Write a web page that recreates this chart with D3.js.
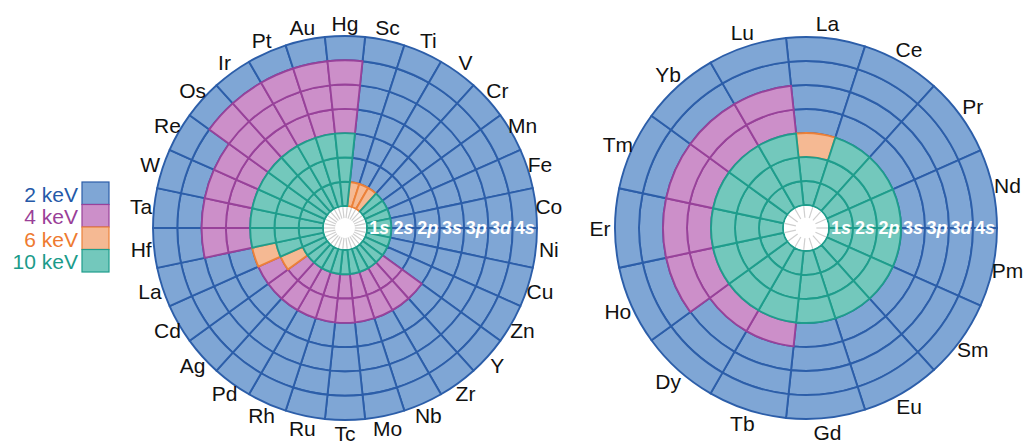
<!DOCTYPE html>
<html>
<head>
<meta charset="utf-8">
<script src="https://cdn.jsdelivr.net/npm/d3@7"></script>
<style>
  body { margin: 0; background: #fff; }
  svg { display: block; }
  text { font-family: "Liberation Sans", Arial, Helvetica, sans-serif; }
</style>
</head>
<body>
<svg id="chart" width="1035" height="443"></svg>
<script>
// Subshells, innermost ring first
const shells = ["1s", "2s", "2p", "3s", "3p", "3d", "4s"];

// Photon energy classes (keV) and their styling
const energyLevels = [2, 4, 6, 10];
const energyLabels = ["2 keV", "4 keV", "6 keV", "10 keV"];
const fillColors   = ["#7fa6d5", "#cc8fc9", "#f5b993", "#73c8bc"];
const strokeColors = ["#2c5ea9", "#98429a", "#ec8139", "#1f9d8c"];
const textColors   = ["#2559a8", "#9a3f98", "#ee7a30", "#1b9b8a"];

// Transition metals (clockwise from top)
const transitionElements = [
  "Sc", "Ti", "V", "Cr", "Mn", "Fe", "Co", "Ni", "Cu", "Zn",
  "Y", "Zr", "Nb", "Mo", "Tc", "Ru", "Rh", "Pd", "Ag", "Cd",
  "La", "Hf", "Ta", "W", "Re", "Os", "Ir", "Pt", "Au", "Hg"
];
// energy class per subshell: 1s 2s 2p 3s 3p 3d 4s
const transitionEnergies = [
  [6, 2, 2, 2, 2, 2, 2],   // Sc
  [6, 2, 2, 2, 2, 2, 2],   // Ti
  [6, 2, 2, 2, 2, 2, 2],   // V
  [10, 2, 2, 2, 2, 2, 2],  // Cr
  [10, 2, 2, 2, 2, 2, 2],  // Mn
  [10, 2, 2, 2, 2, 2, 2],  // Fe
  [10, 2, 2, 2, 2, 2, 2],  // Co
  [10, 2, 2, 2, 2, 2, 2],  // Ni
  [10, 2, 2, 2, 2, 2, 2],  // Cu
  [10, 2, 2, 2, 2, 2, 2],  // Zn
  [10, 4, 4, 2, 2, 2, 2],  // Y
  [10, 4, 4, 2, 2, 2, 2],  // Zr
  [10, 4, 4, 2, 2, 2, 2],  // Nb
  [10, 4, 4, 2, 2, 2, 2],  // Mo
  [10, 4, 4, 2, 2, 2, 2],  // Tc
  [10, 4, 4, 2, 2, 2, 2],  // Ru
  [10, 4, 4, 2, 2, 2, 2],  // Rh
  [10, 4, 4, 2, 2, 2, 2],  // Pd
  [10, 4, 4, 2, 2, 2, 2],  // Ag
  [10, 6, 4, 2, 2, 2, 2],  // Cd
  [10, 10, 6, 2, 2, 2, 2], // La
  [10, 10, 10, 4, 4, 2, 2],// Hf
  [10, 10, 10, 4, 4, 2, 2],// Ta
  [10, 10, 10, 4, 4, 2, 2],// W
  [10, 10, 10, 4, 4, 2, 2],// Re
  [10, 10, 10, 4, 4, 4, 2],// Os
  [10, 10, 10, 4, 4, 4, 2],// Ir
  [10, 10, 10, 4, 4, 4, 2],// Pt
  [10, 10, 10, 4, 4, 4, 2],// Au
  [10, 10, 10, 4, 4, 4, 2] // Hg
];

// Lanthanides (clockwise from top)
const lanthanideElements = [
  "La", "Ce", "Pr", "Nd", "Pm", "Sm", "Eu", "Gd",
  "Tb", "Dy", "Ho", "Er", "Tm", "Yb", "Lu"
];
const lanthanideEnergies = [
  [10, 10, 6, 2, 2, 2, 2],  // La
  [10, 10, 10, 2, 2, 2, 2], // Ce
  [10, 10, 10, 2, 2, 2, 2], // Pr
  [10, 10, 10, 2, 2, 2, 2], // Nd
  [10, 10, 10, 2, 2, 2, 2], // Pm
  [10, 10, 10, 2, 2, 2, 2], // Sm
  [10, 10, 10, 2, 2, 2, 2], // Eu
  [10, 10, 10, 2, 2, 2, 2], // Gd
  [10, 10, 10, 4, 2, 2, 2], // Tb
  [10, 10, 10, 4, 2, 2, 2], // Dy
  [10, 10, 10, 4, 4, 2, 2], // Ho
  [10, 10, 10, 4, 4, 2, 2], // Er
  [10, 10, 10, 4, 4, 2, 2], // Tm
  [10, 10, 10, 4, 4, 2, 2], // Yb
  [10, 10, 10, 4, 4, 2, 2]  // Lu
];

const svg = d3.select("#chart");
const fill = d3.scaleOrdinal().domain(energyLevels).range(fillColors);
const edge = d3.scaleOrdinal().domain(energyLevels).range(strokeColors);
const rad = deg => deg * Math.PI / 180;

function drawWheel(cfg) {
  const { cx, cy, elements, values, startDeg, rHole, rOuter, labelR } = cfg;
  const g = svg.append("g").attr("transform", `translate(${cx},${cy})`);

  const angle = d3.scaleBand().domain(elements)
    .range([rad(startDeg), rad(startDeg + 360)]);
  const ring = d3.scaleBand().domain(shells).range([rHole, rOuter]);
  const arc = d3.arc();

  const cells = elements.flatMap((el, i) =>
    shells.map((s, j) => ({ el, shell: s, v: values[i][j] })));
  // lower energies first so higher-energy outlines sit on top
  cells.sort((a, b) => energyLevels.indexOf(a.v) - energyLevels.indexOf(b.v));

  g.selectAll("path.cell").data(cells).join("path")
    .attr("class", "cell")
    .attr("d", d => arc({
      innerRadius: ring(d.shell),
      outerRadius: ring(d.shell) + ring.bandwidth(),
      startAngle: angle(d.el),
      endAngle: angle(d.el) + angle.bandwidth()
    }))
    .attr("fill", d => fill(d.v))
    .attr("stroke", d => edge(d.v))
    .attr("stroke-width", 1.9)
    .attr("stroke-linejoin", "round");

  // central hole with faint spokes
  g.append("circle").attr("r", rHole - 1).attr("fill", "#fff");
  g.selectAll("line.spoke").data(elements).join("line")
    .attr("class", "spoke")
    .attr("x1", d => rHole * 0.45 * Math.sin(angle(d)))
    .attr("y1", d => -rHole * 0.45 * Math.cos(angle(d)))
    .attr("x2", d => (rHole - 1) * Math.sin(angle(d)))
    .attr("y2", d => -(rHole - 1) * Math.cos(angle(d)))
    .attr("stroke", "#cfcfcf")
    .attr("stroke-width", 1.2);

  // element names around the rim
  g.selectAll("text.elem").data(elements).join("text")
    .attr("class", "elem")
    .attr("x", d => labelR * Math.sin(angle(d) + angle.bandwidth() / 2))
    .attr("y", d => -labelR * Math.cos(angle(d) + angle.bandwidth() / 2))
    .attr("text-anchor", "middle")
    .attr("dominant-baseline", "central")
    .attr("font-size", 21)
    .attr("fill", "#111")
    .text(d => d);

  // subshell names along the horizontal radius
  const sl = g.selectAll("text.shell").data(shells).join("text")
    .attr("class", "shell")
    .attr("x", d => ring(d) + ring.bandwidth() / 2)
    .attr("y", 0)
    .attr("text-anchor", "middle")
    .attr("dominant-baseline", "central")
    .attr("font-size", 18)
    .attr("font-weight", "bold")
    .attr("fill", "#fff");
  sl.append("tspan").text(d => d[0]);
  sl.append("tspan").attr("font-style", "italic").text(d => d.slice(1));
}

drawWheel({
  cx: 345, cy: 228,
  elements: transitionElements, values: transitionEnergies,
  startDeg: 6, rHole: 22, rOuter: 192, labelR: 205
});

drawWheel({
  cx: 806, cy: 228,
  elements: lanthanideElements, values: lanthanideEnergies,
  startDeg: -6, rHole: 23, rOuter: 191, labelR: 206
});

// legend
const legend = svg.append("g");
const boxH = 22.5;
legend.selectAll("rect").data(energyLevels).join("rect")
  .attr("x", 82).attr("y", (d, i) => 182 + i * boxH)
  .attr("width", 27).attr("height", boxH)
  .attr("fill", d => fill(d))
  .attr("stroke", d => edge(d))
  .attr("stroke-width", 1.2);
legend.selectAll("text").data(energyLabels).join("text")
  .attr("x", 78).attr("y", (d, i) => 182 + i * boxH + boxH / 2 + 1)
  .attr("text-anchor", "end")
  .attr("dominant-baseline", "central")
  .attr("font-size", 21)
  .attr("fill", (d, i) => textColors[i])
  .text(d => d);
</script>
</body>
</html>
